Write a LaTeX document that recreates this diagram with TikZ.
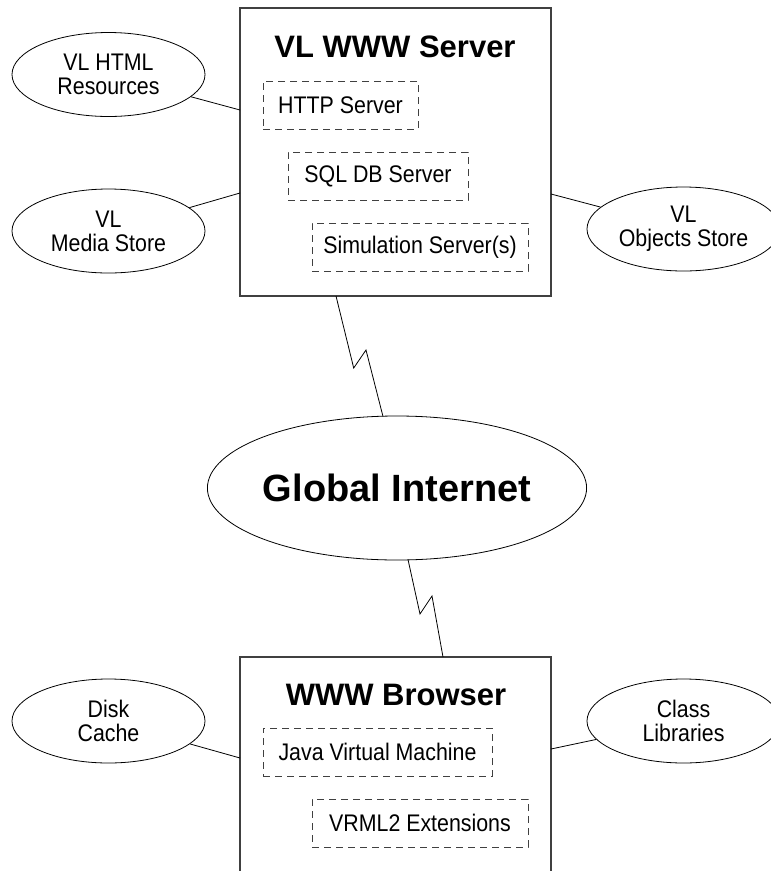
\documentclass[tikz,border=0pt]{standalone}
\usepackage{fontspec}
\setmainfont{Liberation Sans}
\newfontfamily\narrowsans[FakeStretch=0.89]{Liberation Sans}
\usetikzlibrary{shapes.geometric}
\begin{document}
\begin{tikzpicture}[x=1pt,y=-1pt,
  mainbox/.style={draw=black!75, line width=1.2pt, rectangle, inner sep=0pt},
  subbox/.style={draw=black!75, line width=0.9pt, dash pattern=on 7pt off 5pt, rectangle, minimum height=48pt, inner sep=0pt, font=\narrowsans\fontsize{24}{24}\selectfont},
  store/.style={draw, ellipse, line width=0.8pt, minimum width=193pt, minimum height=84pt, inner sep=0pt, align=center, font=\narrowsans\fontsize{24}{24}\selectfont},
  boxtitle/.style={font=\fontsize{31}{36}\selectfont\bfseries, anchor=base, inner sep=0pt},
  link/.style={line width=0.8pt, line join=miter}]
\clip (0,0) rectangle (771,871);
\fill[white] (0,0) rectangle (771,871);

% server
\node[mainbox, minimum width=311pt, minimum height=288pt] (server) at (395.5,152) {};
\node[boxtitle] (servertitle) at (395,57) {VL WWW Server};
\node[subbox, minimum width=155pt] (http) at (340.5,105) {HTTP Server};
\node[subbox, minimum width=180pt] (sql) at (378,176) {SQL DB Server};
\node[subbox, minimum width=216pt] (sim) at (420,247) {Simulation Server(s)};

% server stores
\node[store] (html) at (108.5,74.5) {VL HTML\\Resources};
\node[store] (media) at (108.5,231) {VL\\Media Store};
\node[store] (objects) at (683.5,229) {VL\\Objects Store};
\coordinate (sh) at (240,110);
\coordinate (sm) at (240,193);
\coordinate (so) at (551,194);
\draw[link] (html) -- (sh);
\draw[link] (media) -- (sm);
\draw[link] (objects) -- (so);

% internet
\node[draw, ellipse, line width=0.8pt, minimum width=280pt, minimum height=144pt, inner sep=0pt,
      font=\fontsize{38}{44}\selectfont\bfseries] (net) at (397,488) {Global Internet};

% browser
\node[mainbox, minimum width=311pt, minimum height=260pt] (browser) at (395.5,787) {};
\node[boxtitle] (browsertitle) at (396,705) {WWW Browser};
\node[subbox, minimum width=229pt] (java) at (377.5,752) {Java Virtual Machine};
\node[subbox, minimum width=216pt] (vrml) at (420,823) {VRML2 Extensions};

\node[store] (disk) at (108.5,721) {Disk\\Cache};
\node[store] (classlib) at (683.5,721) {Class\\Libraries};
\coordinate (bd) at (240,758);
\coordinate (bc) at (551,749);
\draw[link] (disk) -- (bd);
\draw[link] (classlib) -- (bc);

% lightning connectors
\coordinate (l1a) at (336,296);
\coordinate (l1b) at (353.7,368);
\coordinate (l1c) at (366,350);
\coordinate (l1d) at (383,416.5);
\draw[link] (l1a) -- (l1b) -- (l1c) -- (l1d);
\coordinate (l2a) at (408,559.5);
\coordinate (l2b) at (420,614);
\coordinate (l2c) at (432,596);
\coordinate (l2d) at (443,657);
\draw[link] (l2a) -- (l2b) -- (l2c) -- (l2d);
\end{tikzpicture}
\end{document}
